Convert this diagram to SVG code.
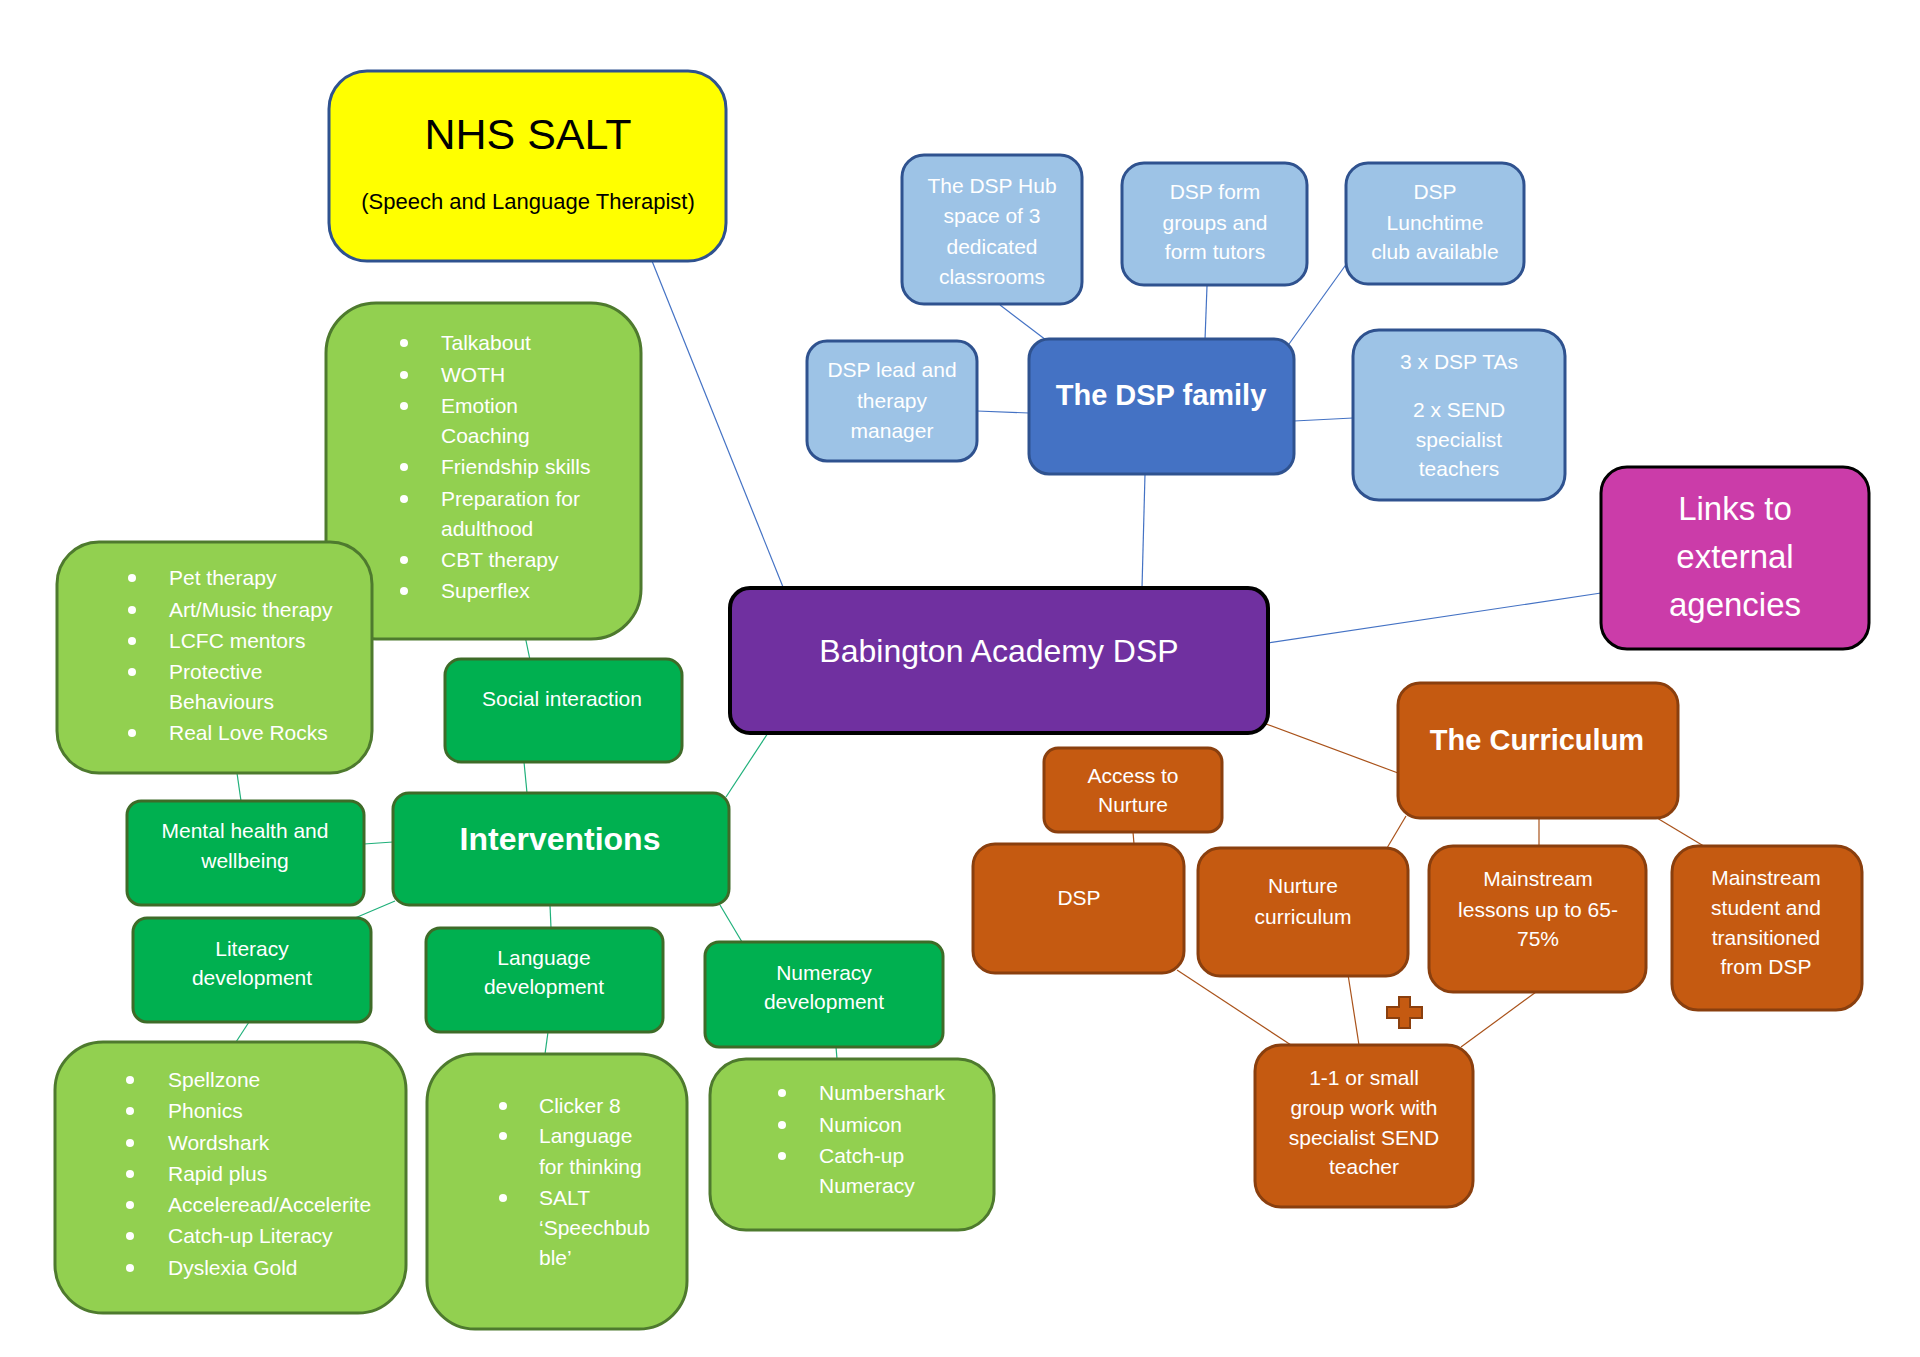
<svg xmlns="http://www.w3.org/2000/svg" width="1920" height="1357" viewBox="0 0 1920 1357">
<style>
text{font-family:"Liberation Sans",Arial,sans-serif;fill:#fff;}
.t{font-size:21px;text-anchor:middle;}
.l{font-size:21px;}
.b{font-weight:bold;text-anchor:middle;}
.lb{fill:#9DC3E6;stroke:#2F528F;stroke-width:3;}
.lg{fill:#92D050;stroke:#4E7A2E;stroke-width:3;}
.dg{fill:#00B050;stroke:#3E6B28;stroke-width:3;}
.or{fill:#C55A11;stroke:#8A3F0E;stroke-width:3;}
.cb{stroke:#4472C4;stroke-width:1.2;fill:none;}
.cg{stroke:#1FB07A;stroke-width:1.2;fill:none;}
.co{stroke:#A9521A;stroke-width:1.2;fill:none;}
.bul{fill:#fff;}
</style>

<g id="connectors">
<line class="cb" x1="652" y1="261" x2="783" y2="587"/>
<line class="cb" x1="1000" y1="305" x2="1046" y2="340"/>
<line class="cb" x1="1207" y1="286" x2="1205" y2="340"/>
<line class="cb" x1="1350" y1="259" x2="1289" y2="344"/>
<line class="cb" x1="977" y1="411" x2="1029" y2="413"/>
<line class="cb" x1="1294" y1="421" x2="1353" y2="418"/>
<line class="cb" x1="1145" y1="474" x2="1142" y2="588"/>
<line class="cb" x1="1268" y1="643" x2="1601" y2="593"/>
<line class="cg" x1="524" y1="631" x2="530" y2="660"/>
<line class="cg" x1="524" y1="762" x2="527" y2="793"/>
<line class="cg" x1="768" y1="733" x2="726" y2="797"/>
<line class="cg" x1="236" y1="766" x2="241" y2="801"/>
<line class="cg" x1="364" y1="844" x2="393" y2="842"/>
<line class="cg" x1="395" y1="901" x2="355" y2="918"/>
<line class="cg" x1="550" y1="905" x2="551" y2="928"/>
<line class="cg" x1="720" y1="905" x2="742" y2="942"/>
<line class="cg" x1="249" y1="1022" x2="236" y2="1042"/>
<line class="cg" x1="548" y1="1032" x2="545" y2="1054"/>
<line class="cg" x1="836" y1="1047" x2="837" y2="1059"/>
<line class="co" x1="1266" y1="724" x2="1398" y2="773"/>
<line class="co" x1="1133" y1="832" x2="1134" y2="844"/>
<line class="co" x1="1406" y1="816" x2="1387" y2="848"/>
<line class="co" x1="1539" y1="818" x2="1539" y2="846"/>
<line class="co" x1="1652" y1="815" x2="1712" y2="851"/>
<line class="co" x1="1177" y1="970" x2="1291" y2="1045"/>
<line class="co" x1="1347" y1="968" x2="1359" y2="1045"/>
<line class="co" x1="1536" y1="992" x2="1461" y2="1047"/>
</g>

<g id="nhs-salt">
<rect x="329" y="71" width="397" height="190" rx="38" fill="#FFFF00" stroke="#2F528F" stroke-width="3"/>
<text x="528" y="149" style="font-size:43px;fill:#000;text-anchor:middle">NHS SALT</text>
<text x="528" y="209" style="font-size:22px;fill:#000;text-anchor:middle">(Speech and Language Therapist)</text>
</g>

<g id="dsp-hub">
<rect class="lb" x="902" y="155" width="180" height="149" rx="22"/>
<text class="t" x="992" y="193">The DSP Hub</text>
<text class="t" x="992" y="223">space of 3</text>
<text class="t" x="992" y="254">dedicated</text>
<text class="t" x="992" y="284">classrooms</text>
</g>

<g id="dsp-form">
<rect class="lb" x="1122" y="163" width="185" height="122" rx="22"/>
<text class="t" x="1215" y="199">DSP form</text>
<text class="t" x="1215" y="230">groups and</text>
<text class="t" x="1215" y="259">form tutors</text>
</g>

<g id="dsp-lunch">
<rect class="lb" x="1346" y="163" width="178" height="121" rx="22"/>
<text class="t" x="1435" y="199">DSP</text>
<text class="t" x="1435" y="230">Lunchtime</text>
<text class="t" x="1435" y="259">club available</text>
</g>

<g id="dsp-lead">
<rect class="lb" x="807" y="341" width="170" height="120" rx="20"/>
<text class="t" x="892" y="377">DSP lead and</text>
<text class="t" x="892" y="408">therapy</text>
<text class="t" x="892" y="438">manager</text>
</g>

<g id="dsp-family">
<rect x="1029" y="339" width="265" height="135" rx="20" fill="#4472C4" stroke="#2F528F" stroke-width="3"/>
<text class="b" x="1161" y="405" style="font-size:29px">The DSP family</text>
</g>

<g id="dsp-tas">
<rect class="lb" x="1353" y="330" width="212" height="170" rx="26"/>
<text class="t" x="1459" y="369">3 x DSP TAs</text>
<text class="t" x="1459" y="417">2 x SEND</text>
<text class="t" x="1459" y="447">specialist</text>
<text class="t" x="1459" y="476">teachers</text>
</g>

<g id="links">
<rect x="1601" y="467" width="268" height="182" rx="26" fill="#CB3CA9" stroke="#000" stroke-width="3"/>
<text class="t" x="1735" y="520" style="font-size:33px">Links to</text>
<text class="t" x="1735" y="568" style="font-size:33px">external</text>
<text class="t" x="1735" y="616" style="font-size:33px">agencies</text>
</g>

<g id="babington">
<rect x="730" y="588" width="538" height="145" rx="20" fill="#7030A0" stroke="#000" stroke-width="4"/>
<text class="t" x="999" y="662" style="font-size:32px">Babington Academy DSP</text>
</g>

<g id="social-list">
<rect class="lg" x="326" y="303" width="315" height="336" rx="50"/>
<g class="bul">
<circle cx="404" cy="343" r="4"/><circle cx="404" cy="375" r="4"/><circle cx="404" cy="406" r="4"/>
<circle cx="404" cy="467" r="4"/><circle cx="404" cy="499" r="4"/><circle cx="404" cy="560" r="4"/><circle cx="404" cy="591" r="4"/>
</g>
<text class="l" x="441" y="350">Talkabout</text>
<text class="l" x="441" y="382">WOTH</text>
<text class="l" x="441" y="413">Emotion</text>
<text class="l" x="441" y="443">Coaching</text>
<text class="l" x="441" y="474">Friendship skills</text>
<text class="l" x="441" y="506">Preparation for</text>
<text class="l" x="441" y="536">adulthood</text>
<text class="l" x="441" y="567">CBT therapy</text>
<text class="l" x="441" y="598">Superflex</text>
</g>

<g id="mental-list">
<rect class="lg" x="57" y="542" width="315" height="231" rx="42"/>
<g class="bul">
<circle cx="132" cy="578" r="4"/><circle cx="132" cy="610" r="4"/><circle cx="132" cy="641" r="4"/>
<circle cx="132" cy="672" r="4"/><circle cx="132" cy="733" r="4"/>
</g>
<text class="l" x="169" y="585">Pet therapy</text>
<text class="l" x="169" y="617">Art/Music therapy</text>
<text class="l" x="169" y="648">LCFC mentors</text>
<text class="l" x="169" y="679">Protective</text>
<text class="l" x="169" y="709">Behaviours</text>
<text class="l" x="169" y="740">Real Love Rocks</text>
</g>

<g id="social-interaction">
<rect class="dg" x="445" y="659" width="237" height="103" rx="16"/>
<text class="t" x="562" y="706">Social interaction</text>
</g>

<g id="interventions">
<rect class="dg" x="393" y="793" width="336" height="112" rx="16"/>
<text class="b" x="560" y="850" style="font-size:32px">Interventions</text>
</g>

<g id="mental-health">
<rect class="dg" x="127" y="801" width="237" height="104" rx="14"/>
<text class="t" x="245" y="838">Mental health and</text>
<text class="t" x="245" y="868">wellbeing</text>
</g>

<g id="literacy">
<rect class="dg" x="133" y="918" width="238" height="104" rx="14"/>
<text class="t" x="252" y="956">Literacy</text>
<text class="t" x="252" y="985">development</text>
</g>

<g id="language">
<rect class="dg" x="426" y="928" width="237" height="104" rx="14"/>
<text class="t" x="544" y="965">Language</text>
<text class="t" x="544" y="994">development</text>
</g>

<g id="numeracy">
<rect class="dg" x="705" y="942" width="238" height="105" rx="14"/>
<text class="t" x="824" y="980">Numeracy</text>
<text class="t" x="824" y="1009">development</text>
</g>

<g id="literacy-list">
<rect class="lg" x="55" y="1042" width="351" height="271" rx="48"/>
<g class="bul">
<circle cx="130" cy="1080" r="4"/><circle cx="130" cy="1111" r="4"/><circle cx="130" cy="1143" r="4"/>
<circle cx="130" cy="1174" r="4"/><circle cx="130" cy="1205" r="4"/><circle cx="130" cy="1236" r="4"/><circle cx="130" cy="1268" r="4"/>
</g>
<text class="l" x="168" y="1087">Spellzone</text>
<text class="l" x="168" y="1118">Phonics</text>
<text class="l" x="168" y="1150">Wordshark</text>
<text class="l" x="168" y="1181">Rapid plus</text>
<text class="l" x="168" y="1212">Acceleread/Accelerite</text>
<text class="l" x="168" y="1243">Catch-up Literacy</text>
<text class="l" x="168" y="1275">Dyslexia Gold</text>
</g>

<g id="language-list">
<rect class="lg" x="427" y="1054" width="260" height="275" rx="48"/>
<g class="bul">
<circle cx="503" cy="1106" r="4"/><circle cx="503" cy="1136" r="4"/><circle cx="503" cy="1198" r="4"/>
</g>
<text class="l" x="539" y="1113">Clicker 8</text>
<text class="l" x="539" y="1143">Language</text>
<text class="l" x="539" y="1174">for thinking</text>
<text class="l" x="539" y="1205">SALT</text>
<text class="l" x="539" y="1235">‘Speechbub</text>
<text class="l" x="539" y="1265">ble’</text>
</g>

<g id="numeracy-list">
<rect class="lg" x="710" y="1059" width="284" height="171" rx="36"/>
<g class="bul">
<circle cx="782" cy="1093" r="4"/><circle cx="782" cy="1125" r="4"/><circle cx="782" cy="1156" r="4"/>
</g>
<text class="l" x="819" y="1100">Numbershark</text>
<text class="l" x="819" y="1132">Numicon</text>
<text class="l" x="819" y="1163">Catch-up</text>
<text class="l" x="819" y="1193">Numeracy</text>
</g>

<g id="curriculum">
<rect class="or" x="1398" y="683" width="280" height="135" rx="22"/>
<text class="b" x="1537" y="750" style="font-size:29px">The Curriculum</text>
</g>

<g id="access-nurture">
<rect class="or" x="1044" y="748" width="178" height="84" rx="14"/>
<text class="t" x="1133" y="783">Access to</text>
<text class="t" x="1133" y="812">Nurture</text>
</g>

<g id="dsp">
<rect class="or" x="973" y="844" width="211" height="129" rx="22"/>
<text class="t" x="1079" y="905">DSP</text>
</g>

<g id="nurture-curriculum">
<rect class="or" x="1198" y="848" width="210" height="128" rx="22"/>
<text class="t" x="1303" y="893">Nurture</text>
<text class="t" x="1303" y="924">curriculum</text>
</g>

<g id="mainstream-lessons">
<rect class="or" x="1429" y="846" width="217" height="146" rx="24"/>
<text class="t" x="1538" y="886">Mainstream</text>
<text class="t" x="1538" y="917">lessons up to 65-</text>
<text class="t" x="1538" y="946">75%</text>
</g>

<g id="mainstream-student">
<rect class="or" x="1672" y="846" width="190" height="164" rx="26"/>
<text class="t" x="1766" y="885">Mainstream</text>
<text class="t" x="1766" y="915">student and</text>
<text class="t" x="1766" y="945">transitioned</text>
<text class="t" x="1766" y="974">from DSP</text>
</g>

<g id="one-to-one">
<rect class="or" x="1255" y="1045" width="218" height="162" rx="26"/>
<text class="t" x="1364" y="1085">1-1 or small</text>
<text class="t" x="1364" y="1115">group work with</text>
<text class="t" x="1364" y="1145">specialist SEND</text>
<text class="t" x="1364" y="1174">teacher</text>
</g>

<g id="plus">
<path d="M1399 997 h11 v10 h12 v11 h-12 v10 h-11 v-10 h-12 v-11 h12 z" fill="#C55A11" stroke="#8A3F0E" stroke-width="2"/>
</g>
</svg>
